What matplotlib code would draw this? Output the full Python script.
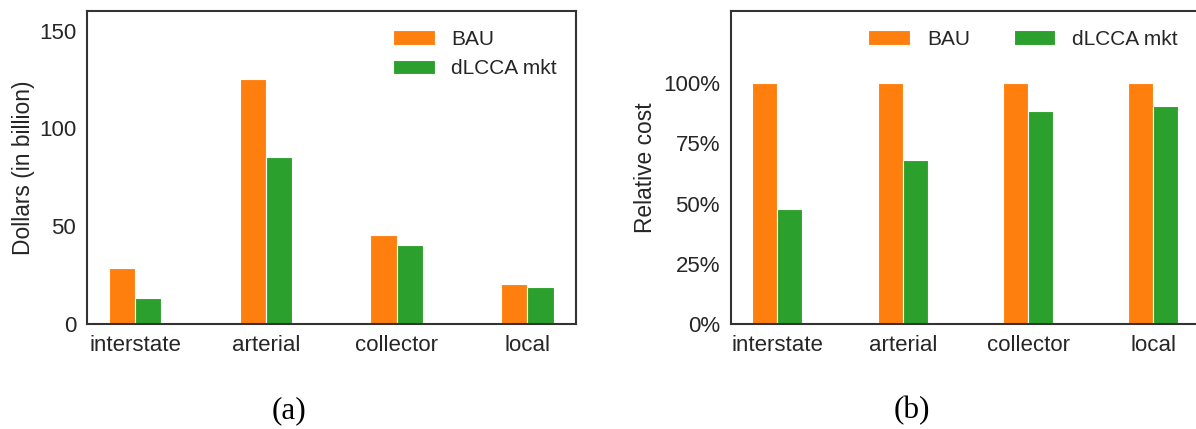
"""Road class costs: BAU vs dLCCA market scenario."""
import matplotlib
matplotlib.use('Agg')
import matplotlib.pyplot as plt
import numpy as np
from matplotlib.ticker import PercentFormatter

road_classes = ['interstate', 'arterial', 'collector', 'local']

# total cost, billion dollars
bau_dollars = [28.5, 125.4, 45.5, 20.3]
dlcca_dollars = [13.5, 85.3, 40.4, 18.8]

# cost relative to BAU
bau_relative = [1.0, 1.0, 1.0, 1.0]
dlcca_relative = [0.478, 0.679, 0.886, 0.907]

ORANGE = '#ff7f0e'
GREEN = '#2ca02c'

plt.rcParams['font.family'] = ['Liberation Sans', 'DejaVu Sans']
plt.rcParams['axes.edgecolor'] = '#333333'
plt.rcParams['axes.linewidth'] = 1.5
plt.rcParams['text.color'] = '#262626'
plt.rcParams['axes.labelcolor'] = '#262626'
plt.rcParams['xtick.color'] = '#262626'
plt.rcParams['ytick.color'] = '#262626'


def draw_bars(ax, first, second, width=0.2):
    x = np.arange(len(road_classes))
    ax.bar(x - width / 2, first, width, color=ORANGE, edgecolor='white',
           linewidth=0.8, label='BAU')
    ax.bar(x + width / 2, second, width, color=GREEN, edgecolor='white',
           linewidth=0.8, label='dLCCA mkt')
    ax.set_xticks(x)
    ax.set_xticklabels(road_classes)
    ax.tick_params(axis='both', length=0, labelsize=16, pad=8)


fig = plt.figure(figsize=(11.96, 4.29), dpi=100)
ax1 = fig.add_axes([0.073, 0.2448, 0.4084, 0.7296])
ax2 = fig.add_axes([0.6112, 0.2448, 0.4883, 0.7296])

draw_bars(ax1, bau_dollars, dlcca_dollars)
ax1.set_xlim(-0.365, 3.37)
ax1.set_ylim(0, 160)
ax1.set_yticks([0, 50, 100, 150])
ax1.set_ylabel('Dollars (in billion)', fontsize=16.4, labelpad=3)
ax1.legend(loc='upper right', frameon=False, fontsize=15,
           labelspacing=0.5)

draw_bars(ax2, bau_relative, dlcca_relative)
ax2.set_xlim(-0.37, 4.29)
ax2.set_ylim(0, 1.3)
ax2.set_yticks([0, 0.25, 0.5, 0.75, 1.0])
ax2.yaxis.set_major_formatter(PercentFormatter(1.0, decimals=0))
ax2.set_ylabel('Relative cost', fontsize=16.4, labelpad=4)
ax2.legend(loc='upper center', ncol=2, frameon=False, fontsize=15,
           columnspacing=2.1)

fig.text(0.242, 0.042, '(a)', family=['Liberation Serif', 'DejaVu Serif'],
         fontsize=22.5, ha='center', va='center', color='black')
fig.text(0.7625, 0.042, '(b)', family=['Liberation Serif', 'DejaVu Serif'],
         fontsize=22.5, ha='center', va='center', color='black')

fig.savefig('out.png', dpi=100)
